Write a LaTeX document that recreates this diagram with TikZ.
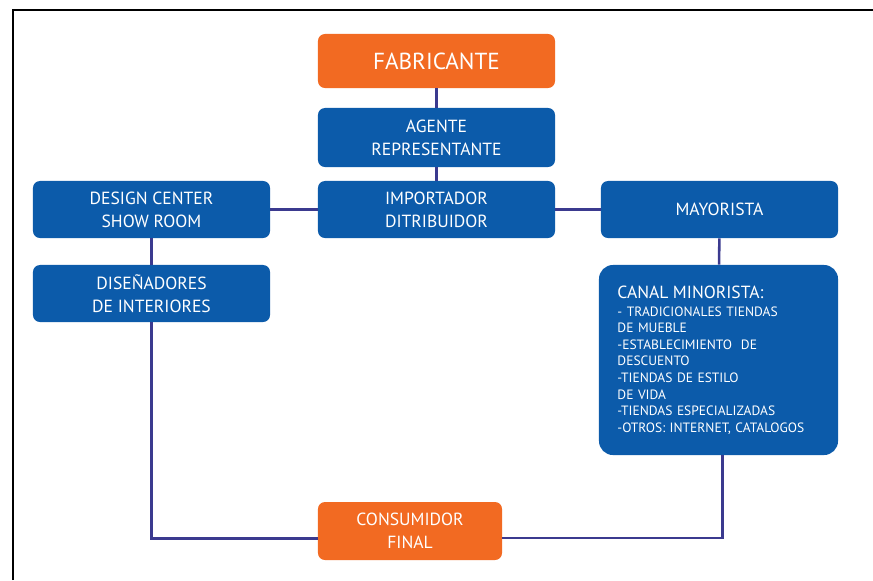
\documentclass[tikz,border=0pt]{standalone}
\usepackage{fontspec}
\setmainfont{PT Sans}

\definecolor{boxblue}{HTML}{0C5BAA}
\definecolor{boxorange}{HTML}{F26A22}
\definecolor{linkline}{HTML}{3B3A8F}

\begin{document}
\begin{tikzpicture}[x=0.025cm,y=-0.025cm,
		blubox/.style={fill=boxblue,text=white,rounded corners=5pt,minimum width=5.925cm,minimum height=1.45cm,
			align=center,font=\fontsize{12.5}{16.5}\selectfont,inner sep=0pt},
		orabox/.style={blubox,fill=boxorange},
		link/.style={draw=linkline,line width=1.8pt}]
		
		\useasboundingbox (0,0) rectangle (873,580);
		
		% frame
		\draw[line width=2pt] (13,580) -- (13,10) -- (873,10);
		
		% middle column
		\node[orabox,minimum height=1.35cm,font=\fontsize{16.5}{19}\selectfont] (fab) at (436.5,61) {FABRICANTE};
		\node[blubox,minimum height=1.475cm] (age) at (436.5,137.5) {AGENTE\\REPRESENTANTE};
		\node[blubox,minimum height=1.425cm] (imp) at (436.5,209.5) {IMPORTADOR\\DITRIBUIDOR};
		
		% left column
		\node[blubox,minimum height=1.425cm] (dsc) at (151.5,209.5) {DESIGN CENTER\\SHOW ROOM};
		\node[blubox,minimum height=1.425cm] (dis) at (151.5,293.5) {DISEÑADORES\\DE INTERIORES};
		
		% right column
		\node[blubox,minimum height=1.425cm] (may) at (719.5,209.5) {MAYORISTA};
		\node[blubox,rounded corners=10pt,minimum width=5.975cm,minimum height=4.75cm,text width=5.05cm,align=left,
			font=\fontsize{9.6}{11.8}\selectfont] (can) at (718.5,360)
			{{\fontsize{12.5}{14}\selectfont CANAL MINORISTA:}\\[1pt]
			- TRADICIONALES TIENDAS\\DE MUEBLE\\-ESTABLECIMIENTO~ DE\\DESCUENTO\\-TIENDAS DE ESTILO\\DE VIDA\\
			-TIENDAS ESPECIALIZADAS\\-OTROS: INTERNET, CATALOGOS};
		
		% end of the chain
		\node[orabox,minimum width=4.6cm,minimum height=1.45cm] (con) at (410,531) {CONSUMIDOR\\FINAL};
		
		% links
		\draw[link] (fab) -- (age);
		\draw[link] (age) -- (imp);
		\draw[link] (imp) -- (dsc);
		\draw[link] (imp) -- (may);
		\draw[link] (dsc) -- (dis);
		\draw[link] (may) -- (can);
		\draw[link] (dis.south) |- ([yshift=-0.19cm]con.west);
		\draw[link] ([xshift=0.1cm]can.south) |- ([yshift=-0.17cm]con.east);
	\end{tikzpicture}
\end{document}
